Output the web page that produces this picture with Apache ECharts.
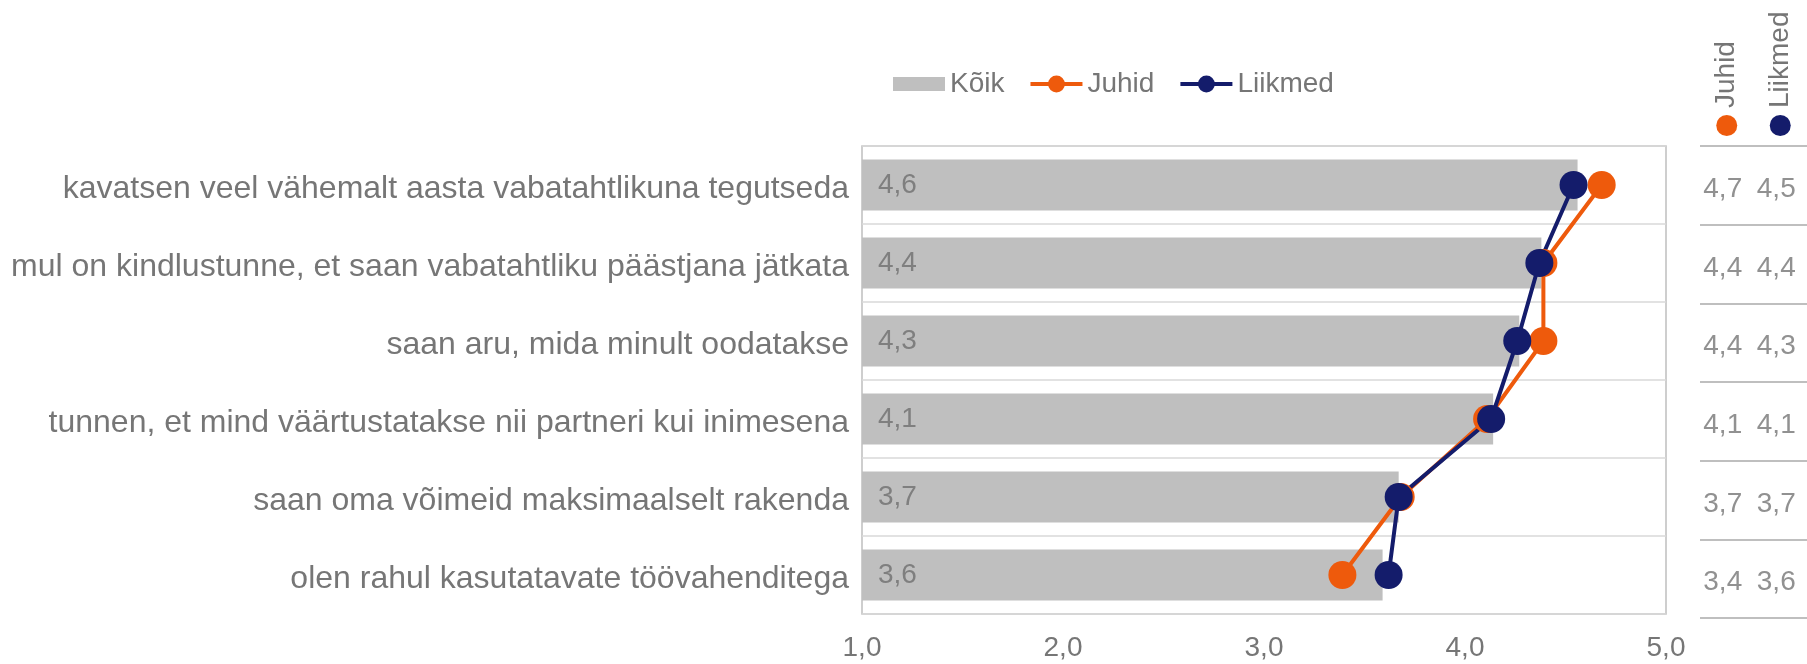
<!DOCTYPE html>
<html>
<head>
<meta charset="utf-8">
<script src="https://cdn.jsdelivr.net/npm/echarts@6/dist/echarts.min.js"></script>
<style>
  html, body { margin: 0; padding: 0; background: #fff; }
  #chart { width: 1807px; height: 664px; }
</style>
</head>
<body>
<div id="chart"></div>
<script>
// data
const categories = [
  'kavatsen veel vähemalt aasta vabatahtlikuna tegutseda',
  'mul on kindlustunne, et saan vabatahtliku päästjana jätkata',
  'saan aru, mida minult oodatakse',
  'tunnen, et mind väärtustatakse nii partneri kui inimesena',
  'saan oma võimeid maksimaalselt rakenda',
  'olen rahul kasutatavate töövahenditega'
];
const koik = [4.56, 4.38, 4.27, 4.14, 3.67, 3.59];
const juhid = [4.68, 4.39, 4.39, 4.11, 3.68, 3.39];
const liikmed = [4.54, 4.37, 4.26, 4.13, 3.67, 3.62];
const tableColumns = ['Juhid', 'Liikmed'];
const xTicks = [1, 2, 3, 4, 5];

const gray = '#767676';
const orange = '#EE5A0C';
const navy = '#141C6B';
const fmt = v => v.toFixed(1).replace('.', ',');

const chart = echarts.init(document.getElementById('chart'));

// table cells: [column, row, value]
const tableData = [];
juhid.forEach((v, i) => tableData.push([0, i, v]));
liikmed.forEach((v, i) => tableData.push([1, i, v]));

const option = {
  animation: false,
  textStyle: { fontFamily: '"Liberation Sans", Arial, sans-serif' },
  legend: {
    left: 888,
    top: 65,
    itemWidth: 52,
    itemHeight: 21,
    itemGap: 24,
    textStyle: { fontSize: 28, color: gray },
    data: [
      { name: 'Kõik', icon: 'path://M0,0M0,3.5L52,3.5L52,17.5L0,17.5ZM52,21' },
      { name: 'Juhid', lineStyle: { width: 4, color: orange } },
      { name: 'Liikmed', lineStyle: { width: 4, color: navy } }
    ]
  },
  grid: [
    { left: 862, right: 141, top: 146, bottom: 50, show: true, borderColor: '#BFBFBF', borderWidth: 1.5 },
    { left: 1700, right: 0, top: 146, bottom: 46 }
  ],
  xAxis: [
    {
      type: 'value', gridIndex: 0,
      min: xTicks[0], max: xTicks[xTicks.length - 1], interval: 1,
      axisLine: { show: false }, axisTick: { show: false }, splitLine: { show: false },
      axisLabel: { fontSize: 28, color: gray, margin: 20, formatter: v => fmt(v) }
    },
    {
      type: 'category', gridIndex: 1, position: 'top', data: tableColumns,
      axisLine: { show: false }, axisTick: { show: false }, splitLine: { show: false },
      axisLabel: {
        rotate: -90, margin: 10, interval: 0,
        formatter: (v, i) => '{' + (i === 0 ? 'o' : 'n') + '| }{t|' + v + '}',
        rich: {
          o: { width: 21, height: 21, borderRadius: 10.5, backgroundColor: orange },
          n: { width: 21, height: 21, borderRadius: 10.5, backgroundColor: navy },
          t: { fontSize: 28, color: gray, padding: [0, 0, 0, 7] }
        }
      }
    }
  ],
  yAxis: [
    {
      type: 'category', gridIndex: 0, data: categories, inverse: true,
      axisLine: { show: false }, axisTick: { show: false },
      splitLine: { show: true, lineStyle: { color: '#D9D9D9', width: 1.5 } },
      axisLabel: {
        margin: 13,
        formatter: v => '{c|' + v + '}',
        rich: { c: { fontSize: 32, color: gray, padding: [8, 0, 0, 0] } }
      }
    },
    {
      type: 'category', gridIndex: 1, data: categories, inverse: true,
      axisLine: { show: false }, axisTick: { show: false }, axisLabel: { show: false },
      splitLine: { show: true, lineStyle: { color: '#BFBFBF', width: 2 } }
    }
  ],
  series: [
    {
      name: 'Kõik', type: 'bar', xAxisIndex: 0, yAxisIndex: 0,
      data: koik, barWidth: 51,
      itemStyle: { color: '#BFBFBF' },
      label: {
        show: true, position: 'insideLeft', distance: 16,
        fontSize: 28, color: '#7F7F7F', formatter: p => fmt(p.value)
      }
    },
    {
      name: 'Juhid', type: 'line', xAxisIndex: 0, yAxisIndex: 0,
      data: juhid, symbol: 'circle', symbolSize: 28,
      lineStyle: { color: orange, width: 4 },
      itemStyle: { color: orange }
    },
    {
      name: 'Liikmed', type: 'line', xAxisIndex: 0, yAxisIndex: 0,
      data: liikmed, symbol: 'circle', symbolSize: 28,
      lineStyle: { color: navy, width: 4 },
      itemStyle: { color: navy }
    },
    {
      name: 'table', type: 'scatter', xAxisIndex: 1, yAxisIndex: 1,
      data: tableData, symbolSize: 1,
      itemStyle: { color: 'rgba(0,0,0,0)' },
      label: {
        show: true, position: 'inside', offset: [-4, 4],
        fontSize: 28, color: gray, formatter: p => fmt(p.value[2])
      },
      silent: true
    }
  ]
};

chart.setOption(option);
</script>
</body>
</html>
